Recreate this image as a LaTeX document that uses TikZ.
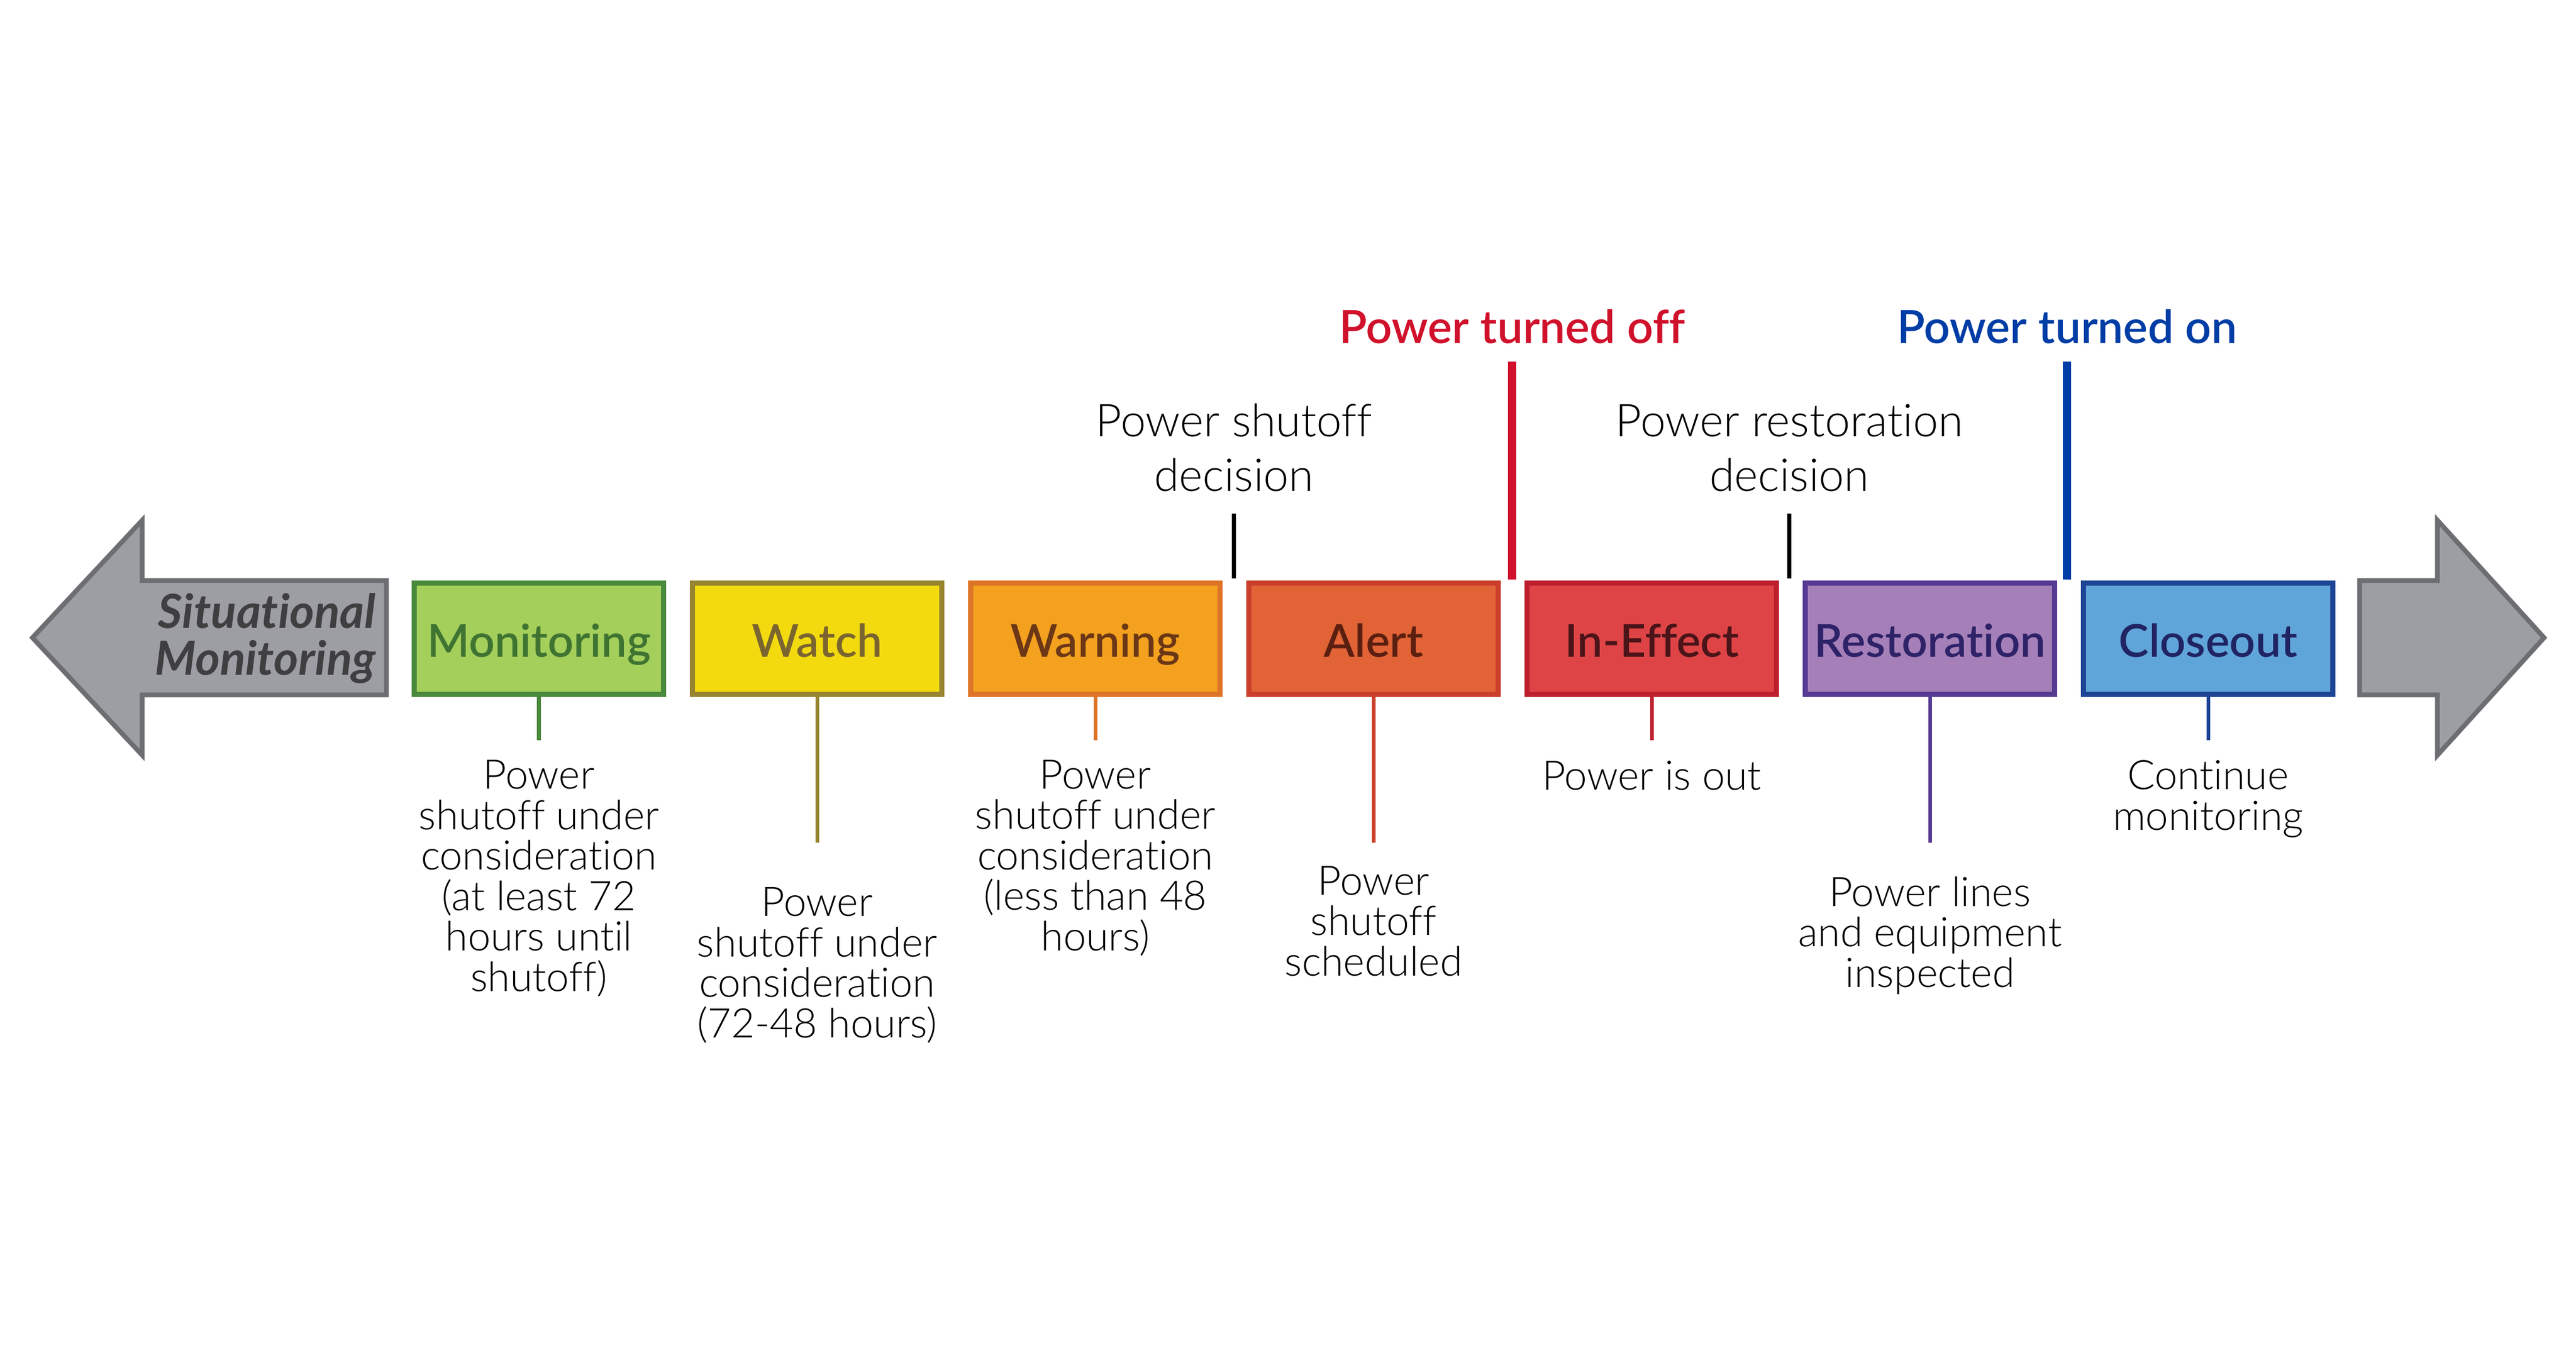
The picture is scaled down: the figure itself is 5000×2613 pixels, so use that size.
\documentclass[tikz,border=0pt]{standalone}
\usepackage{fontspec}
\setmainfont{Lato}[Ligatures=NoCommon]
\newfontfamily\lightf{Lato Light}[Ligatures=NoCommon]
\newfontfamily\semif{Lato Semibold}[Ligatures=NoCommon]
\definecolor{grayF}{HTML}{9D9DA4}
\definecolor{grayB}{HTML}{6D6E71}
\definecolor{grayT}{HTML}{3F3F42}
\definecolor{monF}{HTML}{A3CF5A}
\definecolor{monB}{HTML}{4A8A3C}
\definecolor{monT}{HTML}{3F7332}
\definecolor{watF}{HTML}{F2DA0F}
\definecolor{watB}{HTML}{988530}
\definecolor{watT}{HTML}{7A6430}
\definecolor{warF}{HTML}{F3A11E}
\definecolor{warB}{HTML}{DE7427}
\definecolor{warT}{HTML}{6B3716}
\definecolor{aleF}{HTML}{E16336}
\definecolor{aleB}{HTML}{CB3E2B}
\definecolor{aleT}{HTML}{5B1F10}
\definecolor{effF}{HTML}{DE4446}
\definecolor{effB}{HTML}{BE1F2D}
\definecolor{effT}{HTML}{4A1418}
\definecolor{resF}{HTML}{A57FB8}
\definecolor{resB}{HTML}{563B93}
\definecolor{resT}{HTML}{2E2268}
\definecolor{cloF}{HTML}{60A5D9}
\definecolor{cloB}{HTML}{1E4595}
\definecolor{cloT}{HTML}{202463}
\definecolor{offC}{HTML}{D0112B}
\definecolor{onC}{HTML}{003DA5}
\begin{document}
\begin{tikzpicture}[x=0.01cm,y=-0.01cm,
  stage/.style={draw, line width=2.85pt, minimum width=4.83cm, minimum height=2.16cm,
    inner sep=0pt, text height=0.7cm, text depth=0cm, font=\semif\fontsize{25}{28}\selectfont},
  desc/.style={align=center, anchor=base, inner sep=0pt, font=\lightf\fontsize{22.5}{22.3}\selectfont},
  decision/.style={align=center, anchor=base, inner sep=0pt, font=\lightf\fontsize{25}{30.4}\selectfont},
  event/.style={anchor=base, inner sep=0pt, font=\semif\fontsize{25.3}{28}\selectfont},
  stem/.style={line width=2pt},
  tick/.style={line width=2.3pt, black},
  bigtick/.style={line width=4.5pt},
  grayarrow/.style={fill=grayF, draw=grayB, line width=2.6pt, line join=miter}]
\useasboundingbox (0,0) rectangle (5000,2613);
\fill[white] (0,0) rectangle (5000,2613);

% gray arrows
\draw[grayarrow] (63,1238) -- (276,1010) -- (276,1127) -- (750,1127) -- (750,1349)
  -- (276,1349) -- (276,1466) -- cycle;
\draw[grayarrow] (4580,1127) -- (4731,1127) -- (4731,1010) -- (4938,1238)
  -- (4731,1466) -- (4731,1349) -- (4580,1349) -- cycle;
\node[align=right, anchor=base east, inner sep=0pt, text=grayT,
  font=\bfseries\itshape\fontsize{26}{25.6}\selectfont] (sit) at (730,1310)
  {Situational\\Monitoring};

% stage boxes
\node[stage, fill=monF, draw=monB, text=monT] (mon) at (1046,1240) {Monitoring};
\node[stage, fill=watF, draw=watB, text=watT] (wat) at (1586,1240) {Watch};
\node[stage, fill=warF, draw=warB, text=warT] (war) at (2126,1240) {Warning};
\node[stage, fill=aleF, draw=aleB, text=aleT] (ale) at (2666,1240) {Alert};
\node[stage, fill=effF, draw=effB, text=effT] (eff) at (3206,1240) {In-Effect};
\node[stage, fill=resF, draw=resB, text=resT] (res) at (3746,1240) {Restoration};
\node[stage, fill=cloF, draw=cloB, text=cloT] (clo) at (4286,1240) {Closeout};

% stems
\coordinate (monE) at (1046,1437);
\coordinate (watE) at (1586,1636);
\coordinate (warE) at (2126,1437);
\coordinate (aleE) at (2666,1636);
\coordinate (effE) at (3206,1437);
\coordinate (resE) at (3746,1636);
\coordinate (cloE) at (4286,1437);
\draw[stem, monB] (mon.south) -- (monE);
\draw[stem, watB] (wat.south) -- (watE);
\draw[stem, warB] (war.south) -- (warE);
\draw[stem, aleB] (ale.south) -- (aleE);
\draw[stem, effB] (eff.south) -- (effE);
\draw[stem, resB] (res.south) -- (resE);
\draw[stem, cloB] (clo.south) -- (cloE);

% descriptions (anchored at the baseline of their last line)
\node[desc] (monD) at (1046,1924) {Power\\shutoff under\\consideration\\(at least 72\\hours until\\shutoff)};
\node[desc] (watD) at (1586,2014) {Power\\shutoff under\\consideration\\(72-48 hours)};
\node[desc] (warD) at (2126,1845) {Power\\shutoff under\\consideration\\(less than 48\\hours)};
\node[desc] (aleD) at (2666,1894) {Power\\shutoff\\scheduled};
\node[desc] (effD) at (3206,1533) {Power is out};
\node[desc] (resD) at (3746,1916) {Power lines\\and equipment\\inspected};
\node[desc] (cloD) at (4286,1611) {Continue\\monitoring};

% decisions and events
\node[decision] (dec1) at (2395,954) {Power shutoff\\decision};
\node[decision] (dec2) at (3473,954) {Power restoration\\decision};
\coordinate (d1a) at (2395,997);
\coordinate (d1b) at (2395,1123);
\coordinate (d2a) at (3473,997);
\coordinate (d2b) at (3473,1123);
\draw[tick] (d1a) -- (d1b);
\draw[tick] (d2a) -- (d2b);

\node[event, text=offC] (off) at (2935,667) {Power turned off};
\node[event, text=onC] (on) at (4012,667) {Power turned on};
\coordinate (offa) at (2935,702);
\coordinate (offb) at (2935,1125);
\coordinate (ona) at (4012,702);
\coordinate (onb) at (4012,1125);
\draw[bigtick, offC] (offa) -- (offb);
\draw[bigtick, onC] (ona) -- (onb);
\end{tikzpicture}
\end{document}
